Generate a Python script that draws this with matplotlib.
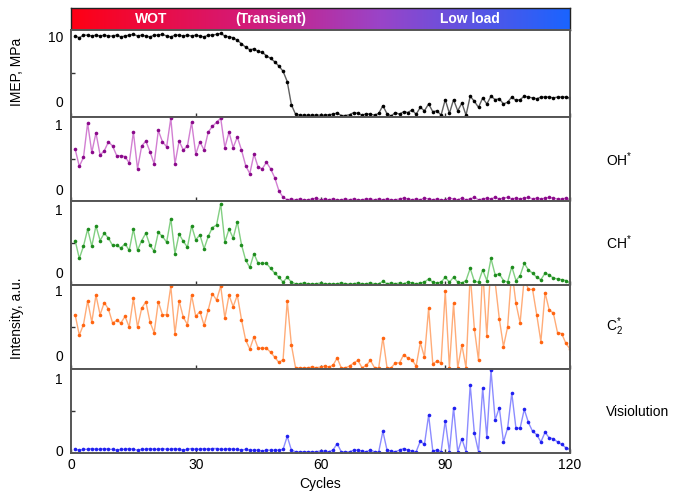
import numpy as np
import matplotlib
matplotlib.use('Agg')
import matplotlib.pyplot as plt
from matplotlib.colors import LinearSegmentedColormap

plt.rcParams['font.family'] = ['Liberation Sans', 'DejaVu Sans']
plt.rcParams['mathtext.fontset'] = 'custom'
plt.rcParams['mathtext.rm'] = 'Liberation Sans'

W, H = 692, 503

cycles = np.arange(1, 121)

imep = [9.3, 9.1, 9.4, 9.4, 9.3, 9.4, 9.3, 9.4, 9.3, 9.3, 9.4, 9.2, 9.3, 9.4, 9.5, 9.3, 9.4, 9.3,
        9.2, 9.4, 9.4, 9.5, 9.3, 9.2, 9.4, 9.4, 9.3, 9.4, 9.3, 9.4, 9.3, 9.2, 9.4, 9.4, 9.5,
        9.6, 9.3, 9.2, 9.1, 8.8, 8.4, 8.0, 7.7, 7.8, 7.5, 7.4, 7.0, 6.7, 6.3, 5.8, 5.2, 4.0, 1.3,
        0.2, 0.1, 0.1, 0.08, 0.1, 0.1, 0.1, 0.1, 0.15, 0.2, 0.35, 0.05, 0.05, 0.15, 0.4, 0.3, 0.1,
        0.25, 0.2, 0.1, 0.3, 1.2, 0.25, 0.0, 0.4, 0.2, 0.5, 0.4, 0.7, 0.2, 1.0, 0.6, 1.4, 0.5, 0.6,
        0.1, 1.9, 0.3, 1.9, 0.6, 1.5, 0.1, 2.3, 1.7, 1.0, 2.1, 1.4, 2.3, 1.9, 2.0, 1.4, 1.6, 2.2,
        1.8, 1.9, 2.3, 2.2, 2.1, 2.0, 2.2, 2.2, 2.2, 2.1, 2.2, 2.2, 2.2, 2.1]

oh = [0.62, 0.41, 0.52, 0.94, 0.58, 0.82, 0.55, 0.60, 0.71, 0.66,
      0.54, 0.54, 0.53, 0.45, 0.83, 0.38, 0.66, 0.72, 0.59, 0.44,
      0.85, 0.71, 0.65, 1.0, 0.44, 0.72, 0.61, 0.66, 0.95, 0.56,
      0.71, 0.61, 0.83, 0.90, 0.95, 1.0, 0.64, 0.83, 0.64, 0.77,
      0.61, 0.42, 0.32, 0.56, 0.40, 0.38, 0.46, 0.38, 0.27, 0.11,
      0.03, 0.0,
      0.01, 0.0, 0.01, 0.0, 0.0, 0.01, 0.02, 0.0, 0.01, 0.0,
      0.01, 0.0, 0.0, 0.01, 0.0, 0.01, 0.0, 0.0, 0.01, 0.01,
      0.0, 0.01, 0.0, 0.01, 0.0, 0.0, 0.01, 0.02, 0.01, 0.0,
      0.01, 0.0, 0.02, 0.01, 0.0, 0.01, 0.0, 0.0, 0.02, 0.01,
      0.0, 0.02, 0.0, 0.01, 0.03, 0.0, 0.01, 0.02, 0.01, 0.03,
      0.01, 0.02, 0.03, 0.01, 0.02, 0.01, 0.02, 0.03, 0.01, 0.02,
      0.01, 0.02, 0.03, 0.02, 0.01, 0.01, 0.02, 0.0]

ch = [0.53, 0.31, 0.46, 0.67, 0.46, 0.71, 0.53, 0.62, 0.56, 0.47,
      0.47, 0.44, 0.49, 0.41, 0.67, 0.41, 0.53, 0.62, 0.47, 0.40,
      0.63, 0.58, 0.51, 0.80, 0.37, 0.61, 0.52, 0.45, 0.71, 0.54,
      0.60, 0.43, 0.58, 0.69, 0.72, 0.98, 0.51, 0.67, 0.56, 0.76,
      0.48, 0.29, 0.20, 0.37, 0.25, 0.25, 0.25, 0.19, 0.13, 0.08,
      0.02, 0.08, 0.02,
      0.0, 0.0, 0.01, 0.0, 0.0, 0.0, 0.01, 0.0, 0.0, 0.0, 0.0,
      0.01, 0.0, 0.0, 0.0, 0.01, 0.0, 0.0, 0.01, 0.0, 0.0,
      0.03, 0.0, 0.01, 0.0, 0.01, 0.0, 0.02, 0.01, 0.0, 0.01, 0.02,
      0.06, 0.02, 0.01, 0.02, 0.08, 0.02, 0.08, 0.02, 0.01, 0.04,
      0.19, 0.03, 0.02, 0.17, 0.04, 0.31, 0.11, 0.12, 0.04, 0.02,
      0.21, 0.04, 0.10, 0.25, 0.17, 0.13, 0.08, 0.05, 0.13, 0.11,
      0.07, 0.06, 0.05, 0.04, 0.01]

c2 = [0.65, 0.40, 0.53, 0.82, 0.56, 0.89, 0.65, 0.80, 0.72, 0.55,
      0.58, 0.55, 0.63, 0.50, 0.85, 0.50, 0.73, 0.81, 0.56, 0.43,
      0.81, 0.65, 0.65, 1.0, 0.42, 0.82, 0.62, 0.53, 0.89, 0.63,
      0.69, 0.52, 0.71, 0.91, 0.83, 1.0, 0.61, 0.89, 0.75, 0.89,
      0.59, 0.34, 0.23, 0.38, 0.24, 0.24, 0.24, 0.19, 0.13, 0.065,
      0.10, 0.82, 0.28,
      0.0, 0.0, 0.0, 0.0, 0.01, 0.0, 0.01, 0.02, 0.01, 0.03,
      0.12, 0.0, 0.0, 0.02, 0.06, 0.09, 0.0, 0.03, 0.09, 0.0,
      0.0, 0.37, 0.0, 0.0, 0.06, 0.06, 0.16, 0.12, 0.10, 0.02,
      0.31, 0.13, 0.73, 0.05, 0.08, 0.06, 0.94, 0.0, 0.79, 0.0, 0.28, 0.0,
      1.15, 0.48, 0.09, 1.2, 0.39, 1.3, 1.05, 0.6, 0.26, 0.50,
      1.2, 0.79, 0.55, 1.1, 0.96, 0.96, 0.65, 0.32, 0.92, 0.71,
      0.67, 0.43, 0.42, 0.30, 0.23]

vis = [0.03, 0.02, 0.03, 0.03, 0.04, 0.03, 0.03, 0.04, 0.03, 0.03,
       0.02, 0.03, 0.03, 0.04, 0.03, 0.02, 0.03, 0.03, 0.04, 0.03,
       0.03, 0.04, 0.03, 0.03, 0.04, 0.03, 0.02, 0.03, 0.04, 0.03,
       0.03, 0.04, 0.03, 0.04, 0.04, 0.03, 0.03, 0.04, 0.03, 0.03,
       0.02, 0.03, 0.02, 0.02, 0.02, 0.01, 0.02, 0.02, 0.02, 0.02, 0.03,
       0.19, 0.02, 0.0, 0.0, 0.0, 0.0, 0.0, 0.0, 0.01, 0.01,
       0.0, 0.02, 0.10, 0.0, 0.0, 0.0, 0.02, 0.02, 0.01, 0.0,
       0.02, 0.0, 0.0, 0.25, 0.02, 0.01, 0.0, 0.02, 0.04, 0.02,
       0.01, 0.0, 0.13, 0.09, 0.45, 0.01, 0.02, 0.0, 0.38, 0.0, 0.54, 0.0, 0.16, 0.0,
       0.82, 0.23, 0.0, 0.78, 0.18, 1.0, 0.39, 0.54, 0.12, 0.29,
       0.72, 0.29, 0.29, 0.52, 0.36, 0.25, 0.21, 0.12, 0.24, 0.17,
       0.16, 0.12, 0.09, 0.05, 0.03]

phase_labels = ['WOT', '(Transient)', 'Low load']
phase_pos = [0.16, 0.40, 0.80]
species = [r'OH$^{*}$', r'CH$^{*}$', r'C$_{2}^{*}$', 'Visiolution']

# (marker colour, line colour) for each trace
styles = [('#000000', '#606060'), ('#8a0a8a', '#d27fd2'), ('#1e8c1e', '#82cf82'),
          ('#ff6410', '#ffac78'), ('#2020f0', '#8c8cff')]


def px_axes(fig, top, bottom, left=71, right=570):
    return fig.add_axes([left / W, 1 - bottom / H, (right - left) / W, (bottom - top) / H])


def ftext(x, y, s, **kw):
    fig.text(x / W, 1 - y / H, s, **kw)


fig = plt.figure(figsize=(W / 100, H / 100), dpi=100)

# phase colour bar
bar = px_axes(fig, 8, 30)
cmap = LinearSegmentedColormap.from_list('phase', [(0.0, '#ff0014'), (0.35, '#d41a78'),
                                                   (0.62, '#9a44c8'), (1.0, '#1a64ff')])
bar.imshow(np.linspace(0, 1, 256)[None, :], aspect='auto', cmap=cmap, extent=[0, 1, 0, 1])
bar.set_xticks([])
bar.set_yticks([])
for sp in bar.spines.values():
    sp.set_color('#222222')
    sp.set_linewidth(1.0)
for lab, pos in zip(phase_labels, phase_pos):
    bar.text(pos, 0.5, lab, color='white', fontsize=10, fontweight='bold',
             ha='center', va='center', transform=bar.transAxes)

panels = [(30, 117), (117, 201), (201, 285), (285, 369), (369, 453)]
series = [imep, oh, ch, c2, vis]
axes = []
for i, ((top, bottom), data, (mc, lc)) in enumerate(zip(panels, series, styles)):
    ax = px_axes(fig, top, bottom)
    ax.plot(cycles, data, '-', color=lc, lw=1.0)
    ax.plot(cycles, data, 'o', color=mc, ms=2.6, mew=0)
    ax.set_xlim(0, 120)
    if i == 0:
        ax.set_ylim(-0.12, 10.0)
        ax.set_yticks([5])
    else:
        ax.set_ylim(-0.015, 1.015)
        ax.set_yticks([0.5])
    ax.set_yticklabels([])
    ax.set_xticks([0, 30, 60, 90, 120])
    ax.tick_params(direction='in', length=3, width=1, color='#333333', labelsize=10)
    if i < 4:
        ax.set_xticklabels([])
    for sp in ax.spines.values():
        sp.set_color('#555555')
        sp.set_linewidth(1.4)
    axes.append(ax)

axes[-1].set_xlabel('Cycles', fontsize=10, labelpad=4)

# hand-placed y tick labels
ylabels = [('10', 38), ('0', 103), ('1', 126), ('0', 191), ('1', 211), ('0', 274),
           ('1', 292), ('0', 357), ('1', 380), ('0', 452)]
for s, y in ylabels:
    ftext(63, y, s, fontsize=10, ha='right', va='center')

ftext(17, 72, 'IMEP, MPa', fontsize=10, rotation=90, ha='center', va='center')
ftext(17, 318, 'Intensity, a.u.', fontsize=10, rotation=90, ha='center', va='center')

for s, y in zip(species, [160, 243, 327, 412]):
    ftext(606, y, s, fontsize=10, ha='left', va='center')

fig.savefig('out.png', dpi=100)
